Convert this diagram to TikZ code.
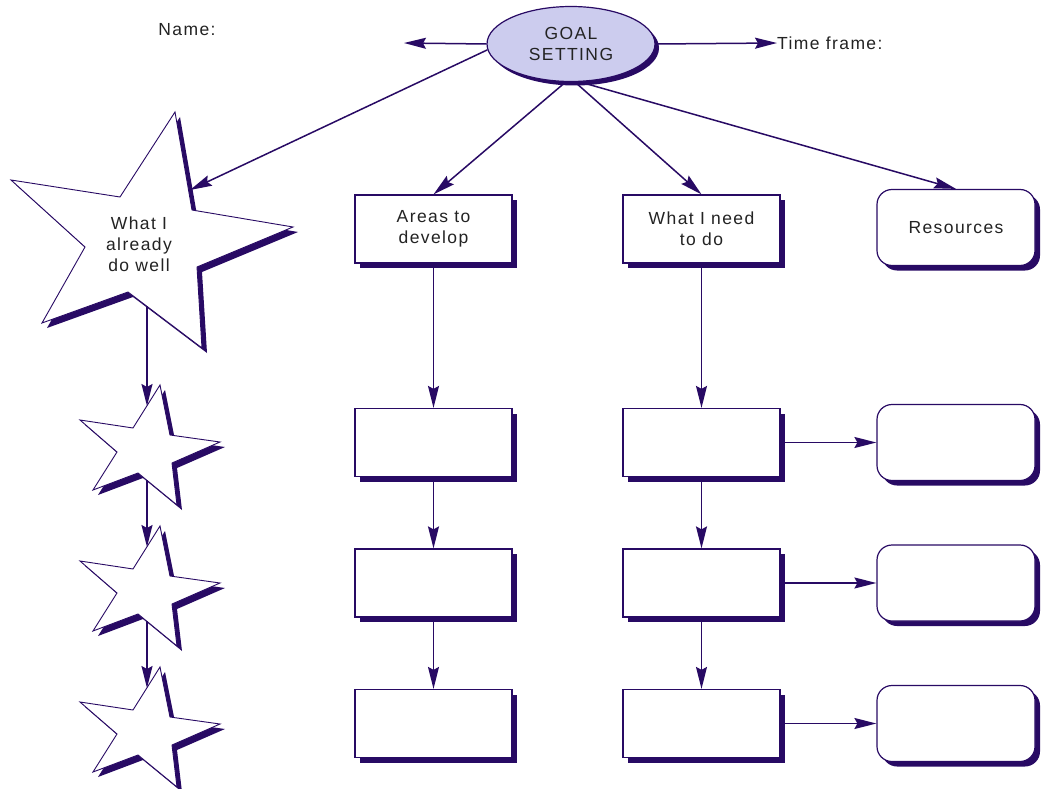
\documentclass[tikz,border=0pt]{standalone}
\usepackage{fontspec}
\setmainfont{Liberation Sans}[LetterSpace=8]
\usetikzlibrary{arrows.meta,shadows,shapes.geometric}
\definecolor{lc}{RGB}{40,10,100}
\definecolor{lav}{RGB}{204,204,238}
\definecolor{tc}{RGB}{35,35,35}
\begin{document}
\begin{tikzpicture}[x=1pt,y=-1pt,
  txt/.style={font=\fontsize{17.5}{21}\selectfont, text=tc, align=center, inner sep=0pt},
  shad/.style={drop shadow={shadow xshift=5pt,shadow yshift=-5pt,opacity=1,fill=lc}},
  box/.style={txt, draw=lc, line width=1.2pt, fill=white, shad, minimum width=157pt, minimum height=68pt},
  rbox/.style={box, rounded corners=15pt, minimum width=158pt, minimum height=76pt},
  starsty/.style={draw=lc, line width=0.9pt, fill=white, line join=miter, shad},
  arr/.style={draw=lc, line width=1.5pt, -{Stealth[length=22pt,width=11pt,inset=3pt]}},
  smallstar/.pic={
    \draw[starsty] (13,-60) -- (23,-10) -- (73,-3) -- (25,18) -- (30,60) -- (-9,28) -- (-54,45) -- (-30,7) -- (-67,-25) -- (-14,-17) -- cycle;
    \coordinate (-in) at (0,-39);
    \coordinate (-out) at (0,35);
  }]
\useasboundingbox[fill=white] (0,0) rectangle (1049,789);

% goal ellipse
\node[ellipse, txt, draw=lc, line width=1.2pt, fill=lav, minimum width=168pt, minimum height=75pt,
      drop shadow={shadow xshift=4pt,shadow yshift=-4pt,opacity=1,fill=lc}] (goal) at (571,44) {GOAL\\SETTING};
\node[txt] (name) at (187,30) {Name:};
\node[txt, anchor=west] (tf) at (777,43) {Time frame:};
\coordinate (nameend) at (404,43);

% big star
\draw[starsty] (175,112) -- (192,210) -- (293,227) -- (197,267) -- (202,348) -- (128,292) -- (42,323) -- (85,247) -- (11,180) -- (120,197) -- cycle;
\node[txt] (bigstar) at (139,244) {What I\\already\\do well};
\coordinate (bsin) at (190,190);
\coordinate (bsout) at (147,306);

% small stars
\pic (s1) at (147,445) {smallstar};
\pic (s2) at (147,586) {smallstar};
\pic (s3) at (147,727) {smallstar};

% header boxes
\node[box] (areas) at (433.5,229) {Areas to\\develop};
\node[box] (need) at (701.5,229) {What I need\\to do};
\node[rbox] (res) at (956,227.5) {Resources};

% rows
\node[box] (a1) at (433.5,442.5) {};
\node[box] (a2) at (433.5,583) {};
\node[box] (a3) at (433.5,723.5) {};
\node[box] (n1) at (701.5,442.5) {};
\node[box] (n2) at (701.5,583) {};
\node[box] (n3) at (701.5,723.5) {};
\node[rbox] (r1) at (956,442.5) {};
\node[rbox] (r2) at (956,583) {};
\node[rbox] (r3) at (956,723.5) {};

% connectors
\draw[arr] (goal.west) -- (nameend);
\draw[arr] (goal.east) -- (tf.west);
\draw[arr] (goal.184) -- (bsin);
\draw[arr] (goal.262) -- (areas.north);
\draw[arr] (goal.276) -- (need.north);
\draw[arr] (goal.283) -- (res.north);

\draw[arr] (areas) -- (a1);
\draw[arr] (a1) -- (a2);
\draw[arr] (a2) -- (a3);
\draw[arr] (need) -- (n1);
\draw[arr] (n1) -- (n2);
\draw[arr] (n2) -- (n3);
\draw[arr] (n1) -- (r1);
\draw[arr] (n2) -- (r2);
\draw[arr] (n3) -- (r3);

\draw[arr] (bsout) -- (s1-in);
\draw[arr] (s1-out) -- (s2-in);
\draw[arr] (s2-out) -- (s3-in);
\end{tikzpicture}
\end{document}
